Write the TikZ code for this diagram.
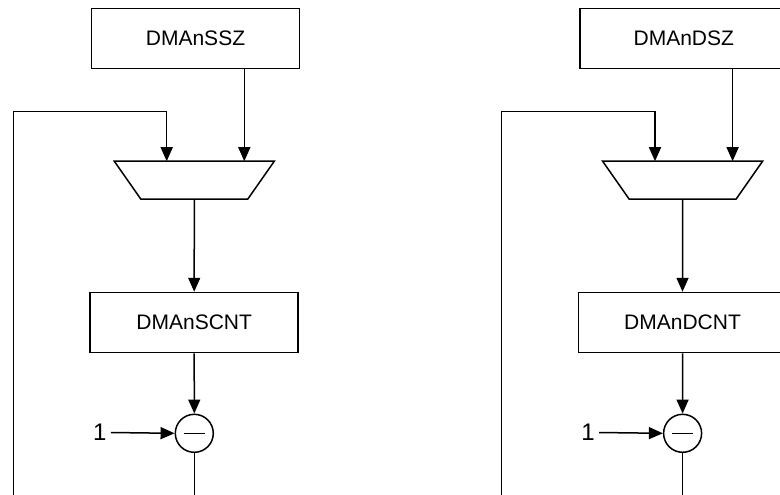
\documentclass[tikz,border=0pt]{standalone}
\usepackage{fontspec}
\setmainfont{Liberation Sans}
\usetikzlibrary{arrows.meta}

\begin{document}
\begin{tikzpicture}[x=0.5pt,y=-0.5pt,line width=0.75pt,
  every node/.style={font=\fontsize{10.5}{12}\selectfont},
  reg/.style={draw,minimum width=104pt,minimum height=30pt,inner sep=0},
  mux/.style={minimum width=80pt,minimum height=19pt,inner sep=0,outer sep=0},
  sub/.style={draw,circle,minimum size=19pt,inner sep=0,path picture={\draw ([xshift=-5.2pt]path picture bounding box.center) -- ++(10.4pt,0);}},
  arr/.style={-{Triangle[length=7pt,width=6pt]}}]
\useasboundingbox (0,0) rectangle (780,494);
\clip (0,0) rectangle (780,494);
\foreach \k/\dx in {S/0,D/488.3}{
  \node[reg] (sz\k) at (195.5+\dx,38.3) {DMAn\k SZ};
  \node[mux] (mux\k) at (194.3+\dx,180.2) {};
  \draw (mux\k.north west) -- (mux\k.north east) -- ([xshift=-13.3pt]mux\k.south east) -- ([xshift=13.3pt]mux\k.south west) -- cycle;
  \node[reg] (cnt\k) at (194.2+\dx,322.5) {DMAn\k CNT};
  \node[sub] (sub\k) at (194.3+\dx,433.3) {};
  \node[inner sep=1.8pt,font=\fontsize{12}{14}\selectfont] (one\k) at (99.8+\dx,432.5) {1};
  \coordinate (low\k) at (13.3+\dx,530);
  \coordinate (top\k) at (13.3+\dx,111.7);
  \draw[arr] ([xshift=24.4pt]sz\k.south) -- ([xshift=24.4pt]sz\k.south |- mux\k.north);
  \draw[arr] (mux\k.south) -- (cnt\k.north);
  \draw[arr] (cnt\k.south) -- (sub\k.north);
  \draw[arr] (one\k.east) -- (sub\k.west);
  \draw[arr] (sub\k.south) |- (low\k) -- (top\k) -| ([xshift=-13.8pt]mux\k.north);
}
\end{tikzpicture}
\end{document}
